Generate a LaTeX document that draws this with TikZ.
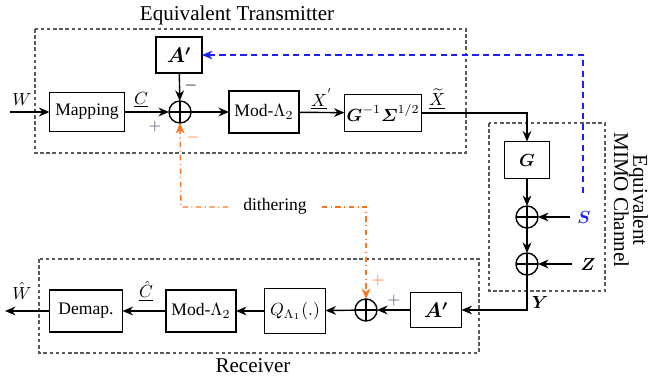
\documentclass[tikz,border=0pt]{standalone}
\usepackage{amsmath}
\usepackage{fontspec}
\setmainfont{Liberation Serif}
\usetikzlibrary{arrows.meta}
\definecolor{dithcol}{RGB}{255,115,30}
\definecolor{feedcol}{RGB}{30,30,255}
\definecolor{signcol}{RGB}{75,85,115}

\begin{document}
\begin{tikzpicture}[x=0.02cm,y=-0.02cm,
  blk/.style={draw, line width=0.8pt, inner sep=1pt, outer sep=0pt},
  adder/.style={draw, line width=0.8pt, circle, minimum size=0.44cm, inner sep=0pt, outer sep=0pt,
    path picture={\draw[line width=0.6pt] (path picture bounding box.north) -- (path picture bounding box.south)
      (path picture bounding box.west) -- (path picture bounding box.east);}},
  arr/.style={line width=0.8pt, -{Stealth[length=6pt,width=5pt]}},
  grpbox/.style={draw=black!65, line width=0.6pt, dash pattern=on 2pt off 1.5pt},
  feed/.style={draw=feedcol, line width=0.8pt, dash pattern=on 3.5pt off 2.5pt, -{Stealth[length=6pt,width=5pt]}},
  dith/.style={draw=dithcol, line width=0.8pt, dash pattern=on 3pt off 2pt on 0.6pt off 2pt},
  lbl/.style={inner sep=0pt}]

\useasboundingbox (0,0) rectangle (650,377);

% group frames
\draw[grpbox] (35,29) rectangle (466,153);
\draw[grpbox] (489,123) rectangle (605,291);
\draw[grpbox] (39,259) rectangle (479,353);
\node at (237,15) {\large Equivalent Transmitter};
\node at (253,366) {\large Receiver};
\node[rotate=-90, align=center, inner sep=0pt] at (631,200) {\large Equivalent\\[-1pt]\large MIMO Channel};

% transmitter
\node[blk, minimum width=1.5cm, minimum height=0.78cm] (map) at (87,112) {Mapping};
\node[adder] (adtx) at (180,112) {};
\node[blk, minimum width=0.92cm, minimum height=0.72cm] (aptx) at (179,55) {\large $\boldsymbol{A'}$};
\node[blk, minimum width=1.4cm, minimum height=0.84cm] (modtx) at (264,112) {Mod-$\Lambda_2$};
\node[blk, minimum width=1.54cm, minimum height=0.74cm] (pre) at (383,113) {$\boldsymbol{G}^{-1}\boldsymbol{\varSigma}^{1/2}$};

% channel
\node[blk, minimum width=0.9cm, minimum height=0.74cm] (gch) at (527,160) {$\boldsymbol{G}$};
\node[adder] (adS) at (527,217) {};
\node[adder] (adZ) at (527,264) {};
\coordinate (sIn) at (570,217);
\coordinate (zIn) at (572,264);
\coordinate (sTop) at (583,193);

% receiver
\node[blk, minimum width=1.02cm, minimum height=0.7cm] (aprx) at (436,310) {\large $\boldsymbol{A'}$};
\node[adder] (adrx) at (366,310) {};
\node[blk, minimum width=1.22cm, minimum height=0.9cm] (quant) at (295,311) {$Q_{\Lambda_1}(.)$};
\node[blk, minimum width=1.4cm, minimum height=0.84cm] (modrx) at (201,311) {Mod-$\Lambda_2$};
\node[blk, minimum width=1.46cm, minimum height=0.84cm] (demap) at (86,311) {Demap.};
\coordinate (win) at (10,112);
\coordinate (wout) at (5,311);

% signal labels
\node[lbl] (wlab) at (22,100) {$W$};
\node[lbl] (clab) at (141,100) {$\underline{C}$};
\node[lbl] (xplab) at (322,99) {$\underline{X}^{'}$};
\node[lbl] (xtlab) at (437,99) {$\underline{\widetilde{X}}$};
\node[lbl, text=feedcol] (slab) at (584,217) {$\boldsymbol{S}$};
\node[lbl] (zlab) at (588,264) {$\boldsymbol{Z}$};
\node[lbl] (ylab) at (540,302) {$\boldsymbol{Y}$};
\node[lbl] (whlab) at (22,291) {$\hat{W}$};
\node[lbl] (chlab) at (146,291) {$\underline{\hat{C}}$};
\node[lbl, text=signcol] at (155,127) {\small $+$};
\node[lbl] at (191,86) {\small $-$};
\node[lbl, text=dithcol] at (193,138) {\small $-$};
\node[lbl, text=dithcol] at (378,281) {\small $+$};
\node[lbl, text=signcol] at (394,301) {\small $+$};
\node[inner xsep=0.3cm] (dtext) at (275,206) {dithering};
\coordinate (dL) at (181,207);
\coordinate (dR) at (366,207);

% connectors
\draw[arr] (win) -- (map);
\draw[arr] (map) -- (adtx);
\draw[arr] (aptx) -- (adtx);
\draw[arr] (adtx) -- (modtx);
\draw[arr] (modtx) -- (pre);
\draw[arr] (pre.east) -| (gch.north);
\draw[arr] (gch) -- (adS);
\draw[arr] (adS) -- (adZ);
\draw[arr] (sIn) -- (adS);
\draw[arr] (zIn) -- (adZ);
\draw[arr] (adZ.south) |- (aprx.east);
\draw[arr] (aprx) -- (adrx);
\draw[arr] (adrx) -- (quant);
\draw[arr] (quant) -- (modrx);
\draw[arr] (modrx) -- (demap);
\draw[arr] (demap) -- (wout);
\draw[feed] (sTop) |- (aptx.east);
\draw[dith, -{Stealth[length=6pt,width=5pt]}] (dtext.west |- dL) -- (dL) -- (adtx.south);
\draw[dith, -{Stealth[length=6pt,width=5pt]}] (dtext.east |- dR) -- (dR) -- (adrx.north);
\end{tikzpicture}
\end{document}
